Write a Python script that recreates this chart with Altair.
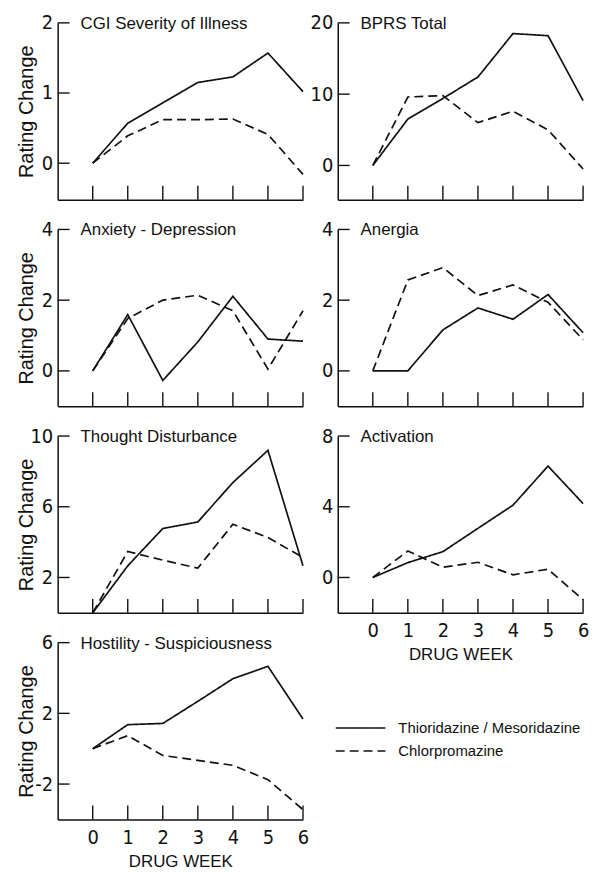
import altair as alt
import pandas as pd

weeks = [0, 1, 2, 3, 4, 5, 6]
drugs = ["Thioridazine / Mesoridazine", "Chlorpromazine"]

titles = ["CGI Severity of Illness", "BPRS Total", "Anxiety - Depression", "Anergia",
          "Thought Disturbance", "Activation", "Hostility - Suspiciousness"]

cgi_thio = [0, 0.57, 0.86, 1.15, 1.23, 1.57, 1.02]
cgi_chlor = [0, 0.39, 0.62, 0.62, 0.63, 0.41, -0.16]
bprs_thio = [0, 6.5, 9.4, 12.4, 18.5, 18.2, 9.1]
bprs_chlor = [0, 9.6, 9.8, 6.0, 7.6, 5.0, -0.5]
anx_thio = [0, 1.59, -0.27, 0.82, 2.11, 0.90, 0.84]
anx_chlor = [0, 1.48, 2.00, 2.14, 1.70, 0.05, 1.70]
anerg_thio = [0, 0, 1.16, 1.78, 1.46, 2.16, 1.08]
anerg_chlor = [0, 2.57, 2.92, 2.13, 2.43, 1.94, 0.88]
thought_thio = [0, 2.66, 4.77, 5.14, 7.37, 9.19, 2.66]
thought_chlor = [0, 3.47, 2.98, 2.53, 5.01, 4.26, 3.13]
activ_thio = [0, 0.84, 1.46, 2.78, 4.09, 6.30, 4.18]
activ_chlor = [0, 1.50, 0.58, 0.86, 0.15, 0.47, -1.26]
host_thio = [0, 1.36, 1.43, 2.68, 3.96, 4.66, 1.68]
host_chlor = [0, 0.74, -0.38, -0.66, -0.94, -1.75, -3.45]

y_domains = [[-0.52, 2], [-4.8, 20], [-1, 4], [-1, 4], [0, 10], [-2, 8], [-4, 6]]
y_ticks = [[0, 1, 2], [0, 10, 20], [0, 2, 4], [0, 2, 4], [2, 6, 10], [0, 4, 8], [-2, 2, 6]]

series = [(cgi_thio, cgi_chlor), (bprs_thio, bprs_chlor), (anx_thio, anx_chlor),
          (anerg_thio, anerg_chlor), (thought_thio, thought_chlor),
          (activ_thio, activ_chlor), (host_thio, host_chlor)]

W, H = 247, 178
NUM_FONT = "Liberation Sans Narrow, DejaVu Sans Condensed, Roboto Condensed, Liberation Sans, sans-serif"
TXT_FONT = "Liberation Sans, Arial, sans-serif"
INK = "#111111"

dash_scale = alt.Scale(domain=drugs, range=[[1, 0], [9, 5]])
xscale = alt.Scale(domain=[-1, 6], nice=False, zero=False)


def panel(i):
    thio, chlor = series[i]
    df = pd.DataFrame({
        "week": weeks + weeks,
        "value": thio + chlor,
        "drug": [drugs[0]] * len(weeks) + [drugs[1]] * len(weeks),
    })
    left = i % 2 == 0
    show_x = i in (5, 6)
    yscale = alt.Scale(domain=y_domains[i], nice=False, zero=False)
    xaxis = alt.Axis(
        values=weeks, ticks=False, grid=False, labels=show_x,
        title="DRUG WEEK" if show_x else None,
        labelFont=NUM_FONT, labelFontSize=20, labelPadding=8, labelColor=INK,
        titleFont=TXT_FONT, titleFontSize=17, titleFontWeight="normal", titleColor=INK,
        titlePadding=6, domainColor=INK, domainWidth=1.5, labelFlush=False,
    )
    yaxis_kw = dict(
        values=y_ticks[i], ticks=False, grid=False, labelExpr="'' + datum.value",
        labelFont=NUM_FONT, labelFontSize=20, labelPadding=5, labelColor=INK,
        labelBaseline="middle", domainColor=INK, domainWidth=1.5, labelFlush=False,
    )
    if left:
        yaxis = alt.Axis(title="Rating Change", titleFont=TXT_FONT, titleFontSize=20,
                         titleFontWeight="normal", titleColor=INK, titleX=-31, titleY=H / 2,
                         titleAngle=270, titleAlign="center", titleBaseline="middle",
                         **yaxis_kw)
    else:
        yaxis = alt.Axis(title=None, **yaxis_kw)

    lines = alt.Chart(df).mark_line(strokeWidth=1.7, color=INK, clip=False).encode(
        x=alt.X("week:Q", scale=xscale, axis=xaxis),
        y=alt.Y("value:Q", scale=yscale, axis=yaxis),
        strokeDash=alt.StrokeDash("drug:N", scale=dash_scale, legend=None),
        detail="drug:N",
    )
    yt = alt.Chart(pd.DataFrame({"value": y_ticks[i]})).mark_rule(strokeWidth=1.4, color=INK).encode(
        y=alt.Y("value:Q"),
        x=alt.value(0), x2=alt.value(12),
    )
    xt = alt.Chart(pd.DataFrame({"week": weeks})).mark_rule(strokeWidth=1.4, color=INK).encode(
        x=alt.X("week:Q"),
        y=alt.value(H), y2=alt.value(H - 14),
    )
    ttl = alt.Chart(pd.DataFrame({"t": [titles[i]]})).mark_text(
        align="left", baseline="middle", font=TXT_FONT, fontSize=17, color=INK
    ).encode(x=alt.value(23), y=alt.value(1), text="t:N")
    return alt.layer(lines, yt, xt, ttl).properties(width=W, height=H)


def legend_panel():
    df = pd.DataFrame({"drug": drugs})
    yl = alt.Y("drug:N", scale=alt.Scale(domain=drugs, range=[86, 109], type="point", padding=0),
               axis=None)
    rules = alt.Chart(df).mark_rule(strokeWidth=1.5, color=INK).encode(
        y=yl, x=alt.value(-2), x2=alt.value(48),
        strokeDash=alt.StrokeDash("drug:N", scale=dash_scale, legend=None),
    )
    txt = alt.Chart(df).mark_text(align="left", baseline="middle", font=TXT_FONT,
                                  fontSize=15, color=INK).encode(
        y=yl, x=alt.value(61), text="drug:N")
    return alt.layer(rules, txt).properties(width=W, height=H)


cells = [panel(i) for i in range(7)] + [legend_panel()]

chart = alt.concat(*cells, columns=2, spacing={"row": 30, "column": 35}, bounds="flush").properties(
    padding={"left": 9, "top": 2, "right": 5, "bottom": 5},
    background="white",
).configure_view(stroke=None)

chart.save("out.html", embed_options={"renderer": "svg", "actions": False})
